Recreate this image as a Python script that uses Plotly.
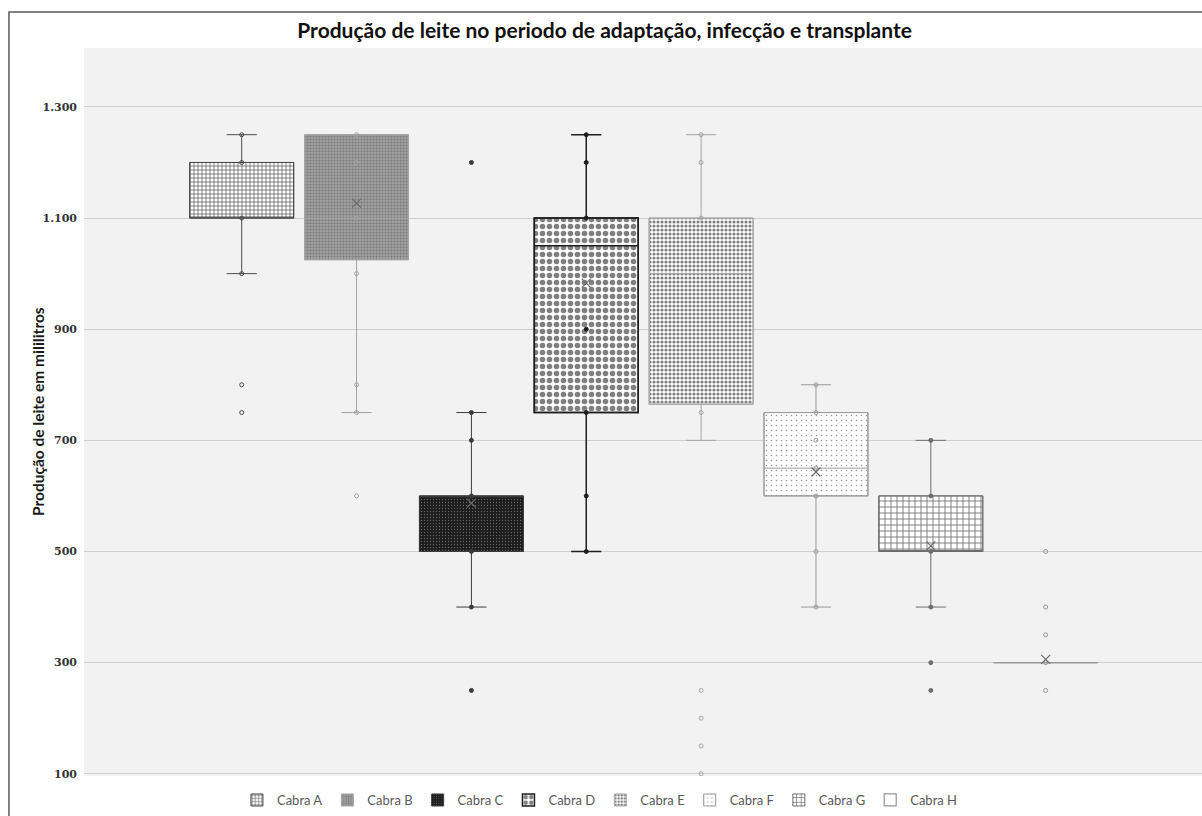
import plotly.graph_objects as go

# Milk production per goat (ml): box statistics and observed points
goats = ["Cabra A", "Cabra B", "Cabra C", "Cabra D", "Cabra E", "Cabra F", "Cabra G", "Cabra H"]
q1 = [1100, 1025, 500, 750, 765, 600, 500, 300]
median = [1100, 1100, 600, 1050, 1000, 650, 500, 300]
q3 = [1200, 1250, 600, 1100, 1100, 750, 600, 300]
whisker_low = [1000, 750, 400, 500, 700, 400, 400, 300]
whisker_high = [1250, 1250, 750, 1250, 1250, 800, 700, 300]
mean = [None, 1127, 587, 983, None, 643, 510, 306]

points_a = [1250, 1200, 1100, 1000, 800, 750]
points_b = [1250, 1200, 1100, 1000, 800, 750, 600]
points_c = [1200, 750, 700, 600, 500, 400, 250]
points_d = [1250, 1200, 1100, 900, 750, 600, 500]
points_e = [1250, 1200, 1100, 750, 250, 200, 150, 100]
points_f = [800, 750, 700, 650, 600, 500, 400]
points_g = [700, 600, 500, 400, 300, 250]
points_h = [500, 400, 350, 300, 250]
points = [points_a, points_b, points_c, points_d, points_e, points_f, points_g, points_h]

y_ticks = [100, 300, 500, 700, 900, 1100, 1300]
y_tick_text = ["100", "300", "500", "700", "900", "1.100", "1.300"]

# Visual styling per goat
fill_styles = [
    dict(shape="+", fgcolor="#000000", bgcolor="#ffffff", size=4, solidity=0.45),
    dict(shape="+", fgcolor="#555555", bgcolor="#a0a0a0", size=3, solidity=0.35),
    dict(shape=".", fgcolor="#b0b0b0", bgcolor="#1c1c1c", size=3, solidity=0.15),
    dict(shape=".", fgcolor="#000000", bgcolor="#ffffff", size=7, solidity=0.5),
    dict(shape=".", fgcolor="#000000", bgcolor="#ffffff", size=4, solidity=0.5),
    dict(shape=".", fgcolor="#333333", bgcolor="#ffffff", size=5, solidity=0.08),
    dict(shape="+", fgcolor="#000000", bgcolor="#ffffff", size=6, solidity=0.3),
    dict(shape="", fgcolor="#ffffff", bgcolor="#ffffff", size=6, solidity=0.1),
]
line_colors = ["#4a4a4a", "#a3a3a3", "#3c3c3c", "#1e1e1e", "#a6a6a6", "#9a9a9a", "#6e6e6e", "#959595"]
line_widths = [1, 1, 1, 1.5, 1, 1, 1, 1.2]
point_symbols = ["circle-open", "circle-open", "circle", "circle", "circle-open",
                 "circle-open", "circle", "circle-open"]

BOX_W = 0.905
fig = go.Figure()

# Patterned box bodies (Q1..Q3) – also serve as legend entries
for i, name in enumerate(goats):
    fig.add_trace(go.Bar(
        x=[i], base=[q1[i]], y=[q3[i] - q1[i]], width=BOX_W, name=name,
        marker=dict(color=fill_styles[i]["bgcolor"], pattern=fill_styles[i],
                    line=dict(color=line_colors[i], width=line_widths[i])),
        showlegend=True, hoverinfo="skip",
    ))

# Box outlines, medians and whiskers
for i, name in enumerate(goats):
    fig.add_trace(go.Box(
        x=[i], q1=[q1[i]], median=[median[i]], q3=[q3[i]],
        lowerfence=[whisker_low[i]], upperfence=[whisker_high[i]],
        width=BOX_W, whiskerwidth=0.29, boxpoints=False,
        fillcolor="rgba(0,0,0,0)",
        line=dict(color=line_colors[i], width=line_widths[i]),
        showlegend=False, name=name, hoverinfo="skip",
    ))

# Individual observations
for i, pts in enumerate(points):
    fig.add_trace(go.Scatter(
        x=[i] * len(pts), y=pts, mode="markers",
        marker=dict(symbol=point_symbols[i], size=4, color=line_colors[i],
                    line=dict(color=line_colors[i], width=1)),
        showlegend=False, hoverinfo="skip",
    ))

# Mean markers
mean_x = [i for i, m in enumerate(mean) if m is not None]
mean_y = [m for m in mean if m is not None]
fig.add_trace(go.Scatter(
    x=mean_x, y=mean_y, mode="markers",
    marker=dict(symbol="x-thin-open", size=9, color="#6a6a6a", line=dict(color="#6a6a6a", width=1.2)),
    showlegend=False, hoverinfo="skip",
))

fig.update_layout(
    width=1202, height=816,
    margin=dict(l=84, r=0, t=48, b=40, autoexpand=False),
    paper_bgcolor="#ffffff", plot_bgcolor="#f2f2f2",
    barmode="overlay", boxmode="overlay",
    title=dict(text="<b>Produção de leite no periodo de adaptação, infecção e transplante</b>",
               x=0.503, xanchor="center", y=0.963, yanchor="middle",
               font=dict(family="Lato", size=21, color="#111111")),
    xaxis=dict(range=[-1.373, 8.361], showticklabels=False, showgrid=False,
               zeroline=False, showline=False, ticks=""),
    yaxis=dict(range=[96, 1406], tickvals=y_ticks, ticktext=y_tick_text,
               showgrid=True, gridcolor="#cfcfcf", gridwidth=1, zeroline=False,
               showline=False, ticks="", ticklabelstandoff=6,
               tickfont=dict(family="DejaVu Serif", size=11, color="#333333", weight="bold")),
    legend=dict(orientation="h", x=0.4615, xanchor="center", y=-0.033, yanchor="middle",
                font=dict(family="Lato", size=13, color="#595959"),
                itemwidth=30, bgcolor="rgba(0,0,0,0)", traceorder="normal"),
    annotations=[dict(text="<b>Produção de leite em mililitros</b>", textangle=-90,
                      xref="paper", yref="paper", x=-0.0411, y=0.5,
                      xanchor="center", yanchor="middle", showarrow=False,
                      font=dict(family="Lato", size=15.5, color="#1a1a1a"))],
    shapes=[dict(type="rect", xref="paper", yref="paper", x0=-0.0671, x1=1.2,
                 y0=-0.3, y1=1.0495, line=dict(color="#5a5a5a", width=1.5),
                 fillcolor="rgba(0,0,0,0)", layer="above")],
)

fig.write_html("out.html")
